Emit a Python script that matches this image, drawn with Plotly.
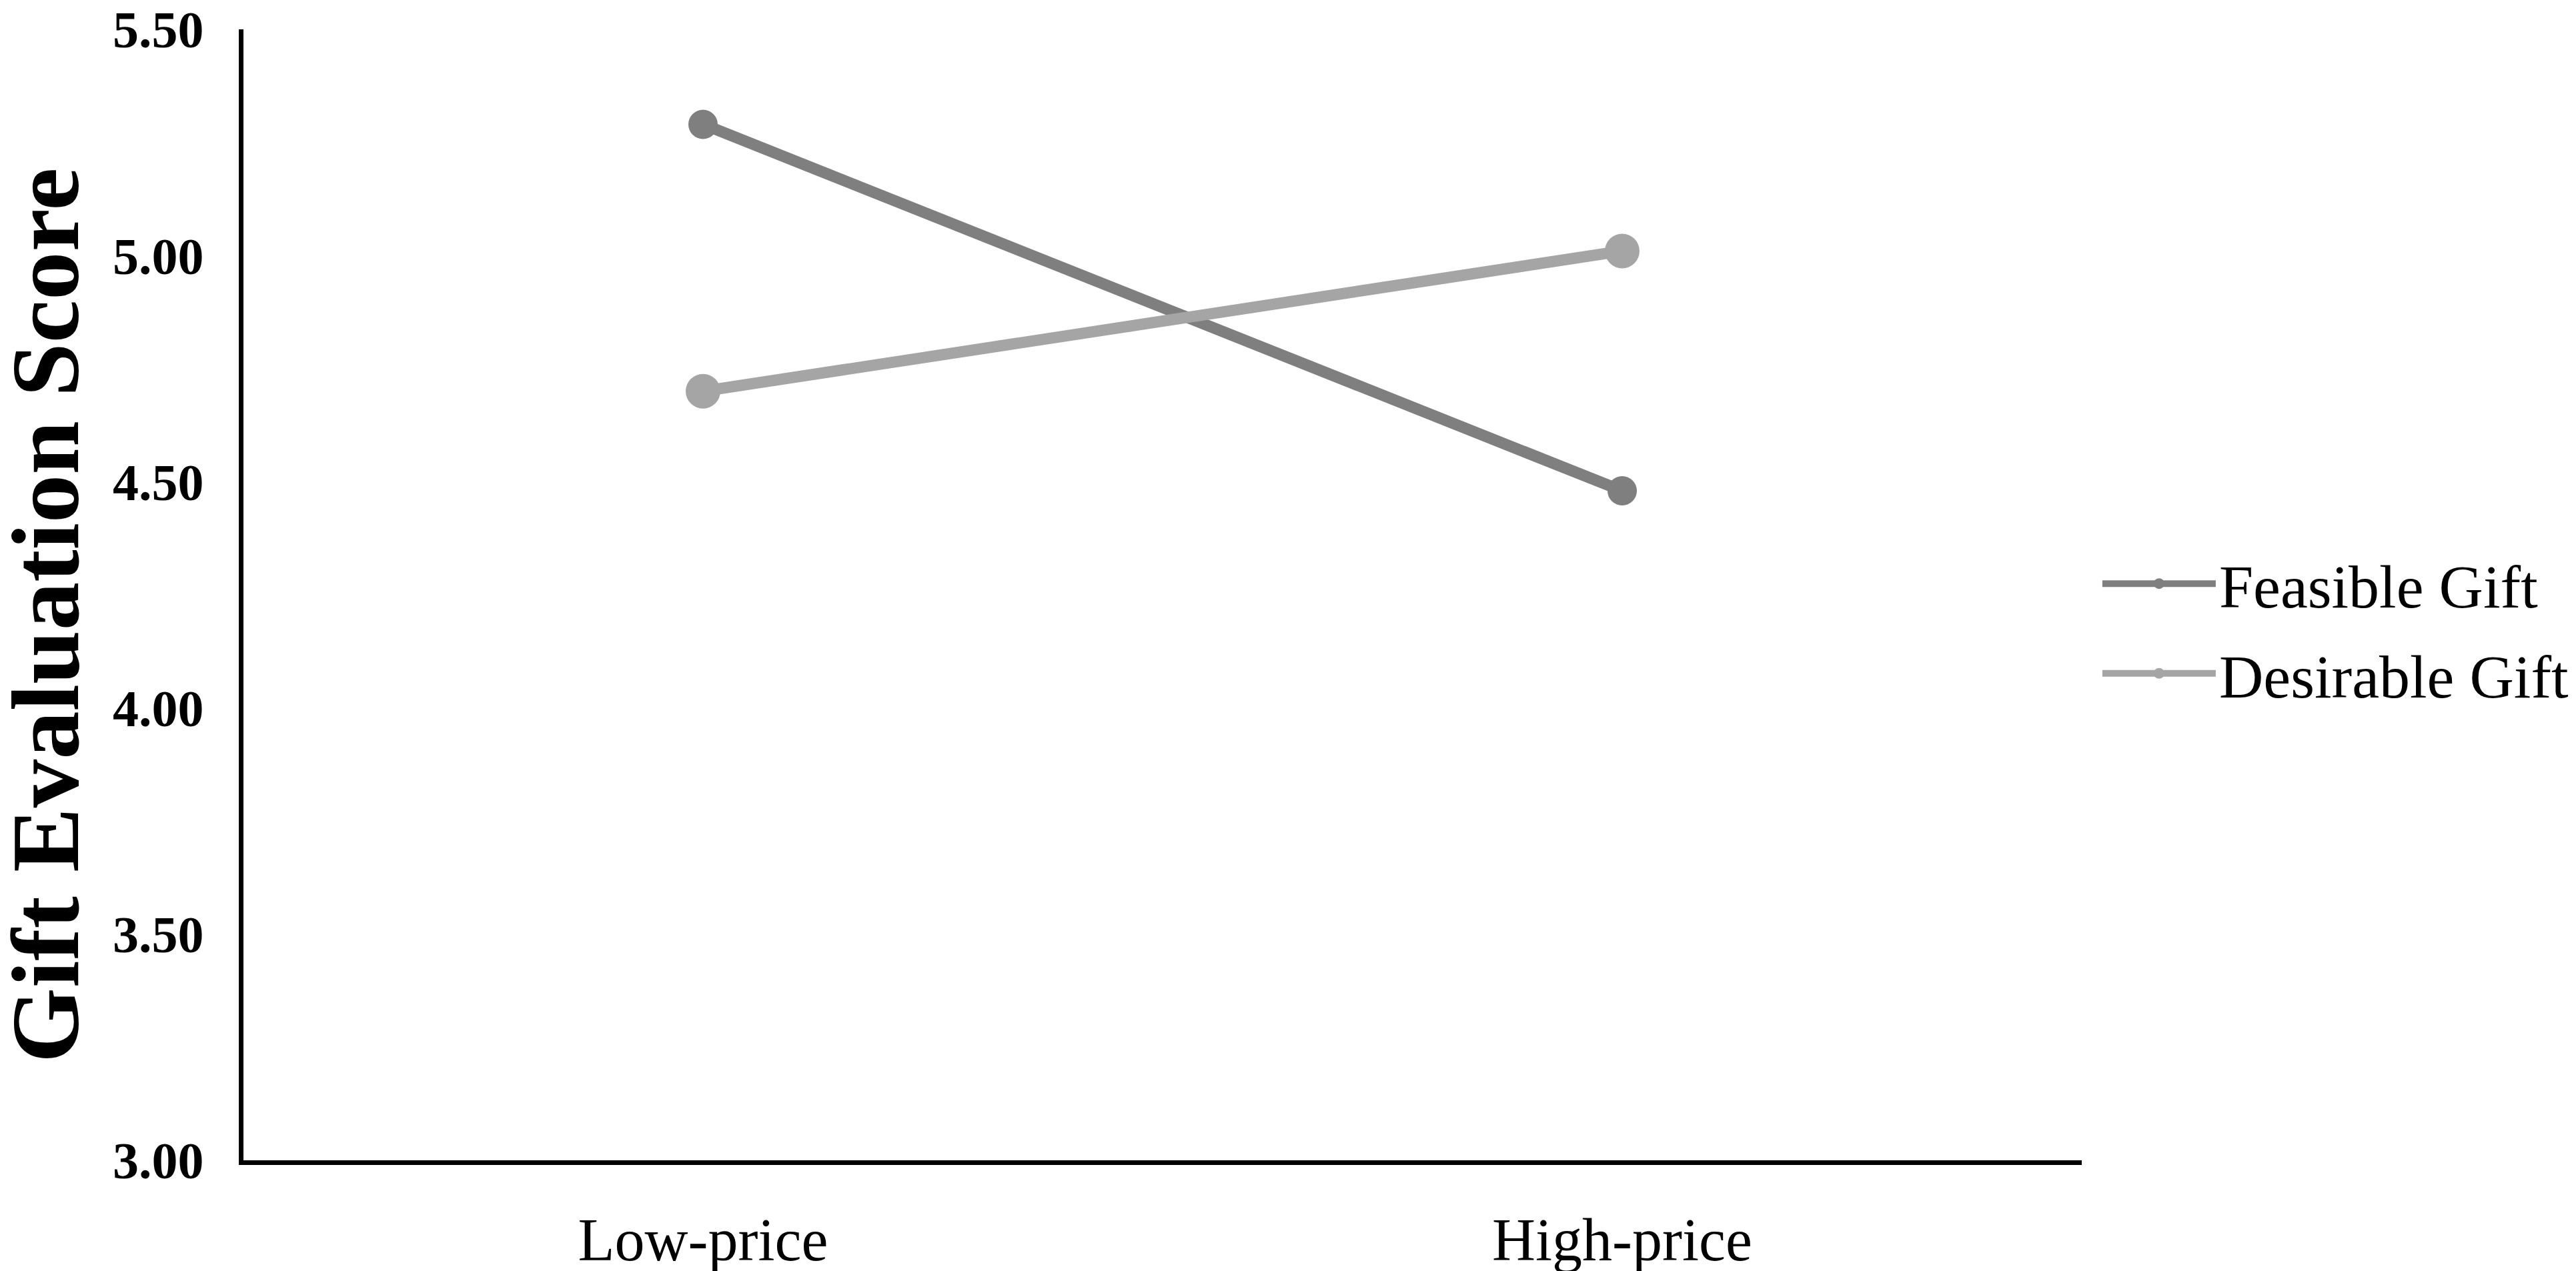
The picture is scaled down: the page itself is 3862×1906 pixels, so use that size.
import plotly.graph_objects as go

price_levels = ['Low-price', 'High-price']
feasible_gift = [5.29, 4.48]
desirable_gift = [4.70, 5.01]
y_ticks = [3.00, 3.50, 4.00, 4.50, 5.00, 5.50]
y_title = 'Gift Evaluation Score'

serif = 'Liberation Serif, Times New Roman, serif'

fig = go.Figure()
fig.add_trace(go.Scatter(
    x=price_levels,
    y=feasible_gift,
    mode='lines+markers',
    name='Feasible Gift',
    legendgroup='feasible',
    line=dict(color='#7f7f7f', width=17),
    marker=dict(color='#7f7f7f', size=44)
))
fig.add_trace(go.Scatter(
    x=price_levels,
    y=desirable_gift,
    mode='lines+markers',
    name='Desirable Gift',
    legendgroup='desirable',
    line=dict(color='#a5a5a5', width=17),
    marker=dict(color='#a5a5a5', size=52)
))

# axis title as a rotated annotation so it can sit at the page edge
fig.add_annotation(
    text=y_title,
    xref='paper',
    yref='paper',
    x=-0.108,
    y=0.482,
    xanchor='center',
    yanchor='middle',
    textangle=-90,
    showarrow=False,
    font=dict(family=serif, size=145, weight='bold', color='black'),
)

fig.update_layout(
    width=3862,
    height=1906,
    paper_bgcolor='white',
    plot_bgcolor='white',
    margin=dict(l=357, r=749, t=36, b=174),
    font=dict(family=serif, color='black'),
    xaxis=dict(
        type='category',
        range=[-0.5, 1.5],
        showgrid=False,
        zeroline=False,
        showline=True,
        linecolor='black',
        linewidth=7,
        ticks='',
        ticklabelstandoff=35,
        ticklabeloverflow='allow',
        tickfont=dict(family=serif, size=90),
        automargin=False,
    ),
    yaxis=dict(
        range=[3, 5.5],
        tickvals=y_ticks,
        tickformat='.2f',
        showgrid=False,
        zeroline=False,
        showline=True,
        linecolor='black',
        linewidth=7,
        ticks='',
        ticklabelstandoff=37,
        ticklabeloverflow='allow',
        tickfont=dict(family=serif, size=78, weight='bold'),
        automargin=False,
    ),
    legend=dict(
        x=1.0094,
        y=0.470,
        xanchor='left',
        yanchor='middle',
        font=dict(family=serif, size=92),
        itemwidth=170,
        tracegroupgap=12,
        bgcolor='rgba(0,0,0,0)',
    ),
    showlegend=True,
)

fig.write_html('out.html')
